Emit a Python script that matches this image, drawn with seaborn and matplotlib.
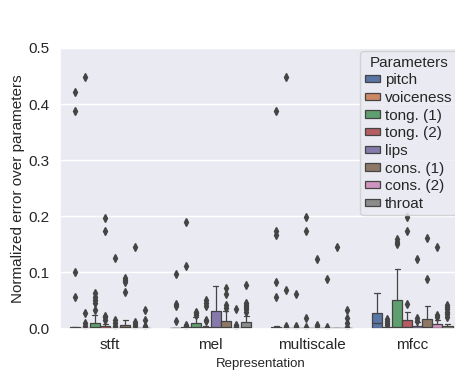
import matplotlib
matplotlib.use("Agg")
import matplotlib.pyplot as plt
import pandas as pd
import seaborn as sns

REPRESENTATIONS = ["stft", "mel", "multiscale", "mfcc"]
PARAMETERS = ["pitch", "voiceness", "tong. (1)", "tong. (2)", "lips",
              "cons. (1)", "cons. (2)", "throat"]

# Normalized error samples, one list per parameter (same order as PARAMETERS)
STFT_ERRORS = [
    [0.0001, 0.0002, 0.0004, 0.0005, 0.0007, 0.0008, 0.0010, 0.0011, 0.0013, 0.0015,
     0.0016, 0.0018, 0.0020, 0.0021, 0.0023, 0.0025, 0.056, 0.101, 0.387, 0.422],
    [0.0000, 0.0001, 0.0001, 0.0002, 0.0002, 0.0003, 0.0003, 0.0004, 0.0004, 0.0005,
     0.0005, 0.0006, 0.0006, 0.0007, 0.0007, 0.0008, 0.005, 0.0095, 0.027, 0.448],
    [0.0000, 0.0001, 0.0002, 0.0003, 0.0005, 0.0006, 0.0008, 0.0009, 0.0011, 0.0013,
     0.0015, 0.0017, 0.0020, 0.0023, 0.0027, 0.0031, 0.0036, 0.0042, 0.0050, 0.0060,
     0.0104, 0.0115, 0.0248, 0.033, 0.046, 0.051, 0.056, 0.063],
    [0.0000, 0.0000, 0.0001, 0.0001, 0.0002, 0.0002, 0.0003, 0.0003, 0.0004, 0.0005,
     0.0006, 0.0007, 0.0008, 0.0010, 0.0012, 0.0014, 0.0017, 0.0020, 0.0024, 0.0030,
     0.0038, 0.0046, 0.0088, 0.0155, 0.020, 0.023, 0.173, 0.197],
    [0.0000, 0.0001, 0.0001, 0.0002, 0.0002, 0.0003, 0.0003, 0.0004, 0.0004, 0.0005,
     0.0005, 0.0006, 0.0006, 0.0007, 0.0007, 0.0008, 0.005, 0.010, 0.016, 0.125],
    [0.0000, 0.0001, 0.0002, 0.0003, 0.0005, 0.0007, 0.0009, 0.0011, 0.0013, 0.0016,
     0.0019, 0.0022, 0.0026, 0.0030, 0.0035, 0.0041, 0.0050, 0.0064, 0.0092,
     0.0149, 0.065, 0.082, 0.086, 0.090],
    [0.0000, 0.0001, 0.0001, 0.0002, 0.0002, 0.0003, 0.0003, 0.0004, 0.0004, 0.0005,
     0.0005, 0.0006, 0.0006, 0.0007, 0.0007, 0.0008, 0.005, 0.008, 0.012, 0.145],
    [0.0000, 0.0001, 0.0001, 0.0002, 0.0002, 0.0003, 0.0003, 0.0004, 0.0004, 0.0005,
     0.0005, 0.0006, 0.0006, 0.0007, 0.0007, 0.0008, 0.003, 0.005, 0.0155, 0.033],
]

MEL_ERRORS = [
    [0.0000, 0.0001, 0.0001, 0.0002, 0.0002, 0.0003, 0.0003, 0.0004, 0.0004, 0.0005,
     0.0005, 0.0006, 0.0006, 0.0007, 0.0007, 0.0008, 0.013, 0.040, 0.044, 0.098],
    [0.0001, 0.0002, 0.0004, 0.0005, 0.0007, 0.0008, 0.0010, 0.0011, 0.0013, 0.0015,
     0.0016, 0.0018, 0.0020, 0.0021, 0.0023, 0.0025, 0.005, 0.007, 0.111, 0.190],
    [0.0000, 0.0002, 0.0004, 0.0006, 0.0008, 0.0010, 0.0013, 0.0016, 0.0020, 0.0024,
     0.0029, 0.0035, 0.0043, 0.0055, 0.0080, 0.0140, 0.020, 0.024, 0.027, 0.029],
    [0.0000, 0.0001, 0.0001, 0.0002, 0.0003, 0.0004, 0.0005, 0.0006, 0.0007, 0.0008,
     0.0009, 0.0010, 0.0012, 0.0014, 0.0016, 0.0018, 0.0021, 0.0026, 0.0040,
     0.013, 0.016, 0.040, 0.045, 0.050],
    [0.0000, 0.0001, 0.0002, 0.0003, 0.0003, 0.0004, 0.0006, 0.0009, 0.0014, 0.0022,
     0.0035, 0.0055, 0.0085, 0.0130, 0.0240, 0.0500, 0.052, 0.058, 0.066, 0.075],
    [0.0000, 0.0002, 0.0004, 0.0006, 0.0008, 0.0010, 0.0012, 0.0015, 0.0018, 0.0022,
     0.0026, 0.0031, 0.0037, 0.0045, 0.0055, 0.0068, 0.0085, 0.0110, 0.0210,
     0.031, 0.036, 0.041, 0.061, 0.073],
    [0.0000, 0.0001, 0.0001, 0.0002, 0.0002, 0.0003, 0.0003, 0.0004, 0.0004, 0.0005,
     0.0005, 0.0006, 0.0006, 0.0007, 0.0007, 0.0008, 0.0025, 0.004, 0.006, 0.035],
    [0.0000, 0.0001, 0.0002, 0.0003, 0.0004, 0.0005, 0.0006, 0.0008, 0.0010, 0.0012,
     0.0014, 0.0016, 0.0019, 0.0022, 0.0025, 0.0029, 0.0033, 0.0038, 0.0044, 0.0051,
     0.0060, 0.0071, 0.0085, 0.0100, 0.0150,
     0.0226, 0.030, 0.034, 0.038, 0.042, 0.046, 0.077],
]

MULTISCALE_ERRORS = [
    [0.0000, 0.0001, 0.0002, 0.0003, 0.0004, 0.0005, 0.0006, 0.0008, 0.0010, 0.0012,
     0.0014, 0.0016, 0.0018, 0.0021, 0.0024, 0.0027, 0.0030, 0.0033, 0.0040,
     0.056, 0.083, 0.167, 0.173, 0.387],
    [0.0000, 0.0001, 0.0001, 0.0002, 0.0002, 0.0003, 0.0003, 0.0004, 0.0004, 0.0005,
     0.0005, 0.0006, 0.0006, 0.0007, 0.0007, 0.0008, 0.0025, 0.004, 0.068, 0.448],
    [0.0000, 0.0001, 0.0001, 0.0002, 0.0002, 0.0003, 0.0003, 0.0004, 0.0004, 0.0005,
     0.0005, 0.0006, 0.0006, 0.0007, 0.0007, 0.0008, 0.0012, 0.003, 0.005, 0.061],
    [0.0000, 0.0001, 0.0001, 0.0002, 0.0002, 0.0003, 0.0003, 0.0004, 0.0004, 0.0005,
     0.0005, 0.0006, 0.0006, 0.0007, 0.0007, 0.0008, 0.0022, 0.019, 0.173, 0.198],
    [0.0000, 0.0001, 0.0001, 0.0002, 0.0002, 0.0003, 0.0003, 0.0004, 0.0004, 0.0005,
     0.0005, 0.0006, 0.0006, 0.0007, 0.0007, 0.0008, 0.0012, 0.004, 0.007, 0.124],
    [0.0000, 0.0001, 0.0001, 0.0002, 0.0002, 0.0003, 0.0003, 0.0004, 0.0004, 0.0005,
     0.0005, 0.0006, 0.0006, 0.0007, 0.0007, 0.0008, 0.0010, 0.0012, 0.0022, 0.089],
    [0.0000, 0.0001, 0.0001, 0.0002, 0.0002, 0.0003, 0.0003, 0.0004, 0.0004, 0.0005,
     0.0005, 0.0006, 0.0006, 0.0007, 0.0007, 0.0008, 0.0009, 0.0011, 0.0013, 0.145],
    [0.0000, 0.0001, 0.0001, 0.0002, 0.0002, 0.0003, 0.0003, 0.0004, 0.0004, 0.0005,
     0.0005, 0.0006, 0.0006, 0.0007, 0.0007, 0.0008, 0.0022, 0.009, 0.018, 0.033],
]

MFCC_ERRORS = [
    [0.0000, 0.0001, 0.0002, 0.0003, 0.0004, 0.0006, 0.0014, 0.0030, 0.0055, 0.0080,
     0.0100, 0.0125, 0.0160, 0.0200, 0.0250, 0.0350, 0.040, 0.046, 0.053, 0.0625],
    [0.0001, 0.0002, 0.0004, 0.0005, 0.0007, 0.0008, 0.0010, 0.0011, 0.0013, 0.0015,
     0.0016, 0.0018, 0.0020, 0.0021, 0.0023, 0.0025, 0.006, 0.010, 0.013, 0.017],
    [0.0000, 0.0001, 0.0002, 0.0003, 0.0004, 0.0006, 0.0008, 0.0011, 0.0015, 0.0021,
     0.0030, 0.0045, 0.0070, 0.0120, 0.0380, 0.0920, 0.1055, 0.150, 0.155, 0.160],
    [0.0000, 0.0001, 0.0002, 0.0003, 0.0004, 0.0006, 0.0009, 0.0013, 0.0018, 0.0025,
     0.0034, 0.0046, 0.0062, 0.0085, 0.0130, 0.0240, 0.030, 0.044, 0.174, 0.199],
    [0.0000, 0.0001, 0.0001, 0.0002, 0.0003, 0.0004, 0.0005, 0.0007, 0.0009, 0.0011,
     0.0014, 0.0017, 0.0021, 0.0027, 0.0038, 0.0080, 0.011, 0.014, 0.018, 0.124],
    [0.0000, 0.0001, 0.0002, 0.0004, 0.0005, 0.0006, 0.0008, 0.0012, 0.0018, 0.0026,
     0.0036, 0.0050, 0.0068, 0.0095, 0.0140, 0.0270, 0.032, 0.040, 0.088, 0.161],
    [0.0000, 0.0001, 0.0001, 0.0002, 0.0003, 0.0003, 0.0004, 0.0006, 0.0008, 0.0011,
     0.0015, 0.0020, 0.0027, 0.0036, 0.0055, 0.0135, 0.016, 0.021, 0.024, 0.145],
    [0.0000, 0.0000, 0.0001, 0.0001, 0.0002, 0.0002, 0.0003, 0.0003, 0.0004, 0.0004,
     0.0005, 0.0006, 0.0007, 0.0008, 0.0009, 0.0010, 0.0012, 0.0014, 0.0016, 0.0018,
     0.0021, 0.0024, 0.0028, 0.0032, 0.0048,
     0.0080, 0.021, 0.026, 0.030, 0.034, 0.038, 0.042],
]

rows = []
for rep, per_param in zip(REPRESENTATIONS,
                          [STFT_ERRORS, MEL_ERRORS, MULTISCALE_ERRORS, MFCC_ERRORS]):
    for param, values in zip(PARAMETERS, per_param):
        for v in values:
            rows.append({"Representation": rep, "Parameters": param, "error": v})
df = pd.DataFrame(rows)

sns.set_theme(style="darkgrid")
plt.rcParams["font.family"] = ["Liberation Sans", "DejaVu Sans"]

fig = plt.figure(figsize=(4.56, 3.79), dpi=100)
W, H = 456.0, 379.0
left, right, top, bottom = 59.7, 462.6, 48.0, 328.5
ax = fig.add_axes([left / W, 1 - bottom / H, (right - left) / W, (bottom - top) / H])

line_gray = "#444444"
sns.boxplot(
    data=df, x="Representation", y="error", hue="Parameters",
    order=REPRESENTATIONS, hue_order=PARAMETERS,
    palette="deep", saturation=0.75, width=0.8, linewidth=0.9,
    linecolor=line_gray,
    flierprops=dict(marker="d", markerfacecolor=line_gray,
                    markeredgecolor=line_gray, markersize=3.8),
    ax=ax,
)

ax.set_ylim(0, 0.5)
ax.set_yticks([0.0, 0.1, 0.2, 0.3, 0.4, 0.5])
ax.set_yticklabels(["0.0", "0.1", "0.2", "0.3", "0.4", "0.5"])
ax.tick_params(axis="both", labelsize=11, length=0)
ax.tick_params(axis="y", pad=7)
ax.tick_params(axis="x", pad=7)
ax.set_ylabel("Normalized error over parameters", fontsize=11, labelpad=2.5)
ax.set_xlabel("Representation", fontsize=9.5, labelpad=4)

handles, labels = ax.get_legend_handles_labels()
ax.legend(
    handles, labels, title="Parameters", fontsize=11, title_fontsize=11,
    loc="upper right",
    bbox_to_anchor=((457 - left) / (right - left), (bottom - 51) / (bottom - top)),
    borderaxespad=0, borderpad=0.3, handlelength=0.95, handleheight=0.35,
    handletextpad=0.35, labelspacing=0.24,
)

fig.savefig("out.png", dpi=100)
